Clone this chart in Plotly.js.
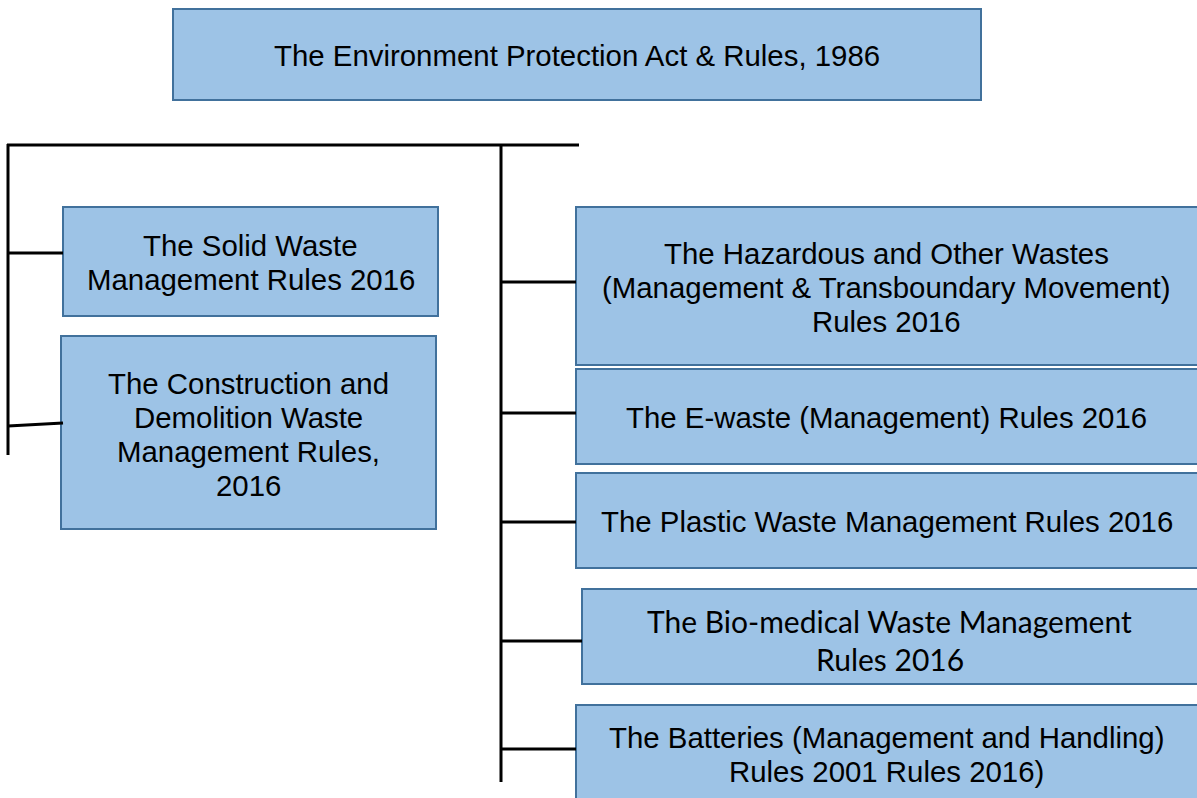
<!DOCTYPE html>
<html>
<head>
<meta charset="utf-8">
<script src="https://cdn.plot.ly/plotly-3.0.1.min.js"></script>
<style>html,body{margin:0;padding:0;background:#fff;}#chart{width:1197px;height:798px;}</style>
</head>
<body>
<div id="chart"></div>
<script>
// ---- Content (data) ----
const rootLabel = ["The Environment Protection Act & Rules, 1986"];
const leftLabels = [
  ["The Solid Waste", "Management Rules 2016"],
  ["The Construction and", "Demolition Waste", "Management Rules,", "2016"]
];
const rightLabels = [
  ["The Hazardous and Other Wastes", "(Management & Transboundary Movement)", "Rules 2016"],
  ["The E-waste (Management) Rules 2016"],
  ["The Plastic Waste Management Rules 2016"],
  ["The Bio-medical Waste Management", "Rules 2016"],
  ["The Batteries (Management and Handling)", "Rules 2001 Rules 2016)"]
];

// ---- Geometry / style (layout only) ----
const W = 1197, H = 798;
const FILL = "#9dc3e6", EDGE = "#41719c", LINE = "#000000";
const ARIAL = "Liberation Sans, Arial, sans-serif";
const CALIBRI = "Lato, Carlito, Calibri, sans-serif";
const AS = 29.4, CS = 30;

const rootBox = {x0:173, x1:981, y0:9, y1:100, cy:55, pitch:34, font:ARIAL, size:AS};
const leftBoxes = [
  {x0:63, x1:438, y0:207, y1:316, cy:262, pitch:34, font:ARIAL, size:AS, conn:[8,253,63,253]},
  {x0:61, x1:436, y0:336, y1:529, cy:434, pitch:34, font:ARIAL, size:AS, conn:[8,426,63,423]}
];
const rightBoxes = [
  {x0:576, x1:1199, y0:207, y1:365, cy:287, pitch:34, font:ARIAL, size:AS, conn:[501,282,576,282]},
  {x0:576, x1:1199, y0:369, y1:464, cy:417, pitch:34, font:ARIAL, size:AS, conn:[501,413,576,413]},
  {x0:576, x1:1199, y0:473, y1:568, cy:521, pitch:34, font:ARIAL, size:AS, conn:[501,522,576,522]},
  {x0:582, x1:1199, y0:589, y1:684, cy:640, pitch:38, font:CALIBRI, size:CS, conn:[501,641,582,641]},
  {x0:576, x1:1199, y0:705, y1:801, cy:754, pitch:34, font:ARIAL, size:AS, conn:[501,749,576,749]}
];
const trunkLines = [
  [7,145,579,145],   // horizontal bar
  [8,144,8,455],     // left trunk
  [501,144,501,782]  // right trunk
];

const shapes = [];
const annotations = [];

function addLine(c){
  shapes.push({type:"line", xref:"x", yref:"y", x0:c[0], y0:c[1], x1:c[2], y1:c[3],
    line:{color:LINE, width:3}});
}
function addBox(b, lines){
  shapes.push({type:"rect", xref:"x", yref:"y", x0:b.x0, x1:b.x1, y0:b.y0, y1:b.y1,
    fillcolor:FILL, line:{color:EDGE, width:2}, layer:"below"});
  const n = lines.length;
  lines.forEach((t,i)=>{
    const y = b.cy + (i - (n-1)/2) * b.pitch;
    annotations.push({x:(b.x0 + Math.min(b.x1,1197))/2, y:y, xref:"x", yref:"y", text:t,
      showarrow:false, xanchor:"center", yanchor:"middle",
      font:{family:b.font, size:b.size, color:"#000"}});
  });
  if (b.conn) addLine(b.conn);
}

trunkLines.forEach(addLine);
addBox(rootBox, rootLabel);
leftBoxes.forEach((b,i)=>addBox(b, leftLabels[i]));
rightBoxes.forEach((b,i)=>addBox(b, rightLabels[i]));

const layout = {
  width: W, height: H,
  margin:{l:0,r:0,t:0,b:0},
  paper_bgcolor:"#ffffff", plot_bgcolor:"#ffffff",
  showlegend:false,
  xaxis:{range:[0,W], visible:false, fixedrange:true},
  yaxis:{range:[H,0], visible:false, fixedrange:true},
  shapes: shapes,
  annotations: annotations
};

Plotly.newPlot("chart", [{x:[], y:[], type:"scatter", mode:"markers", hoverinfo:"skip"}], layout,
  {displayModeBar:false, staticPlot:true});
</script>
</body>
</html>
